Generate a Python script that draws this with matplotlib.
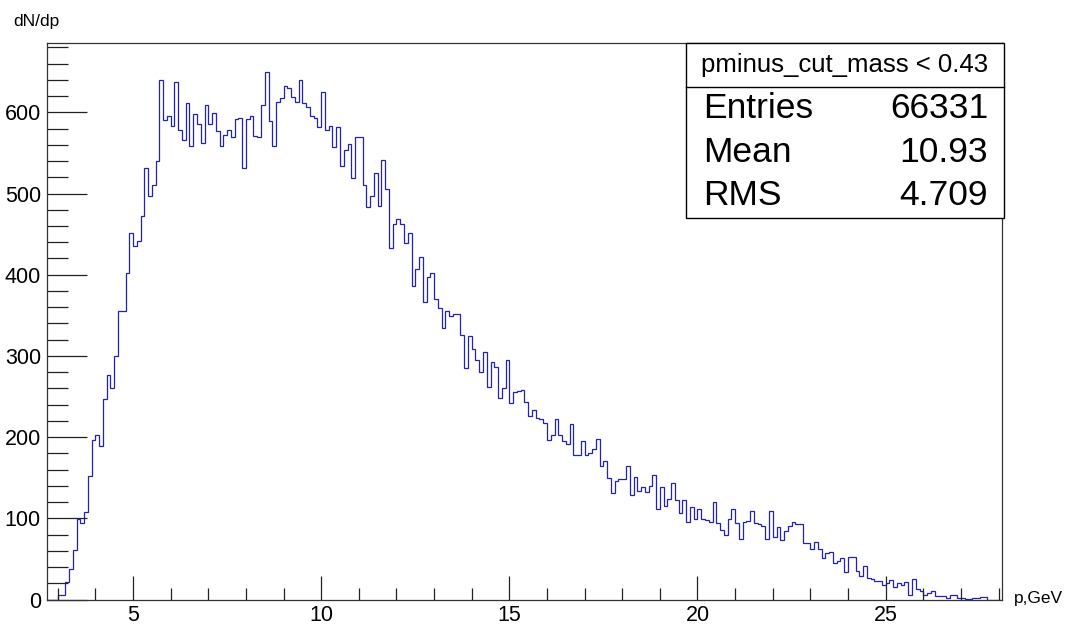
import numpy as np
import matplotlib
matplotlib.use("Agg")
import matplotlib.pyplot as plt
from matplotlib.patches import Rectangle
from matplotlib.lines import Line2D
from matplotlib.ticker import MultipleLocator

plt.rcParams['font.family'] = ['Liberation Sans', 'DejaVu Sans']

# ---- data ----
x_min = 2.7
x_max = 28.1
bin_width = 0.1

counts = [
    0, 0, 0, 5, 6, 21, 38, 61, 99, 94,            # 2.7 - 3.6
    108, 152, 197, 202, 189, 247, 276, 261, 300, 355,  # 3.7 - 4.6
    355, 402, 451, 435, 442, 472, 531, 497, 511, 540,  # 4.7 - 5.6
    640, 591, 595, 583, 637, 578, 566, 612, 558, 598,  # 5.7 - 6.6
    586, 562, 609, 586, 599, 577, 558, 572, 578, 570,  # 6.7 - 7.6
    592, 593, 532, 592, 595, 571, 570, 609, 650, 589,  # 7.7 - 8.6
    559, 613, 618, 633, 630, 619, 613, 640, 612, 606,  # 8.7 - 9.6
    595, 593, 582, 625, 578, 583, 557, 582, 534, 554,  # 9.7 - 10.6
    561, 519, 569, 569, 510, 484, 497, 525, 485, 541,  # 10.7 - 11.6
    506, 433, 463, 468, 462, 439, 451, 386, 407, 422,  # 11.7 - 12.6
    367, 397, 402, 370, 359, 334, 355, 349, 351, 352,  # 12.7 - 13.6
    326, 285, 325, 309, 295, 280, 305, 262, 292, 286,  # 13.7 - 14.6
    248, 260, 295, 242, 255, 257, 258, 243, 226, 233,  # 14.7 - 15.6
    224, 222, 217, 196, 202, 222, 203, 195, 192, 216,  # 15.7 - 16.6
    178, 178, 195, 178, 181, 185, 198, 164, 170, 150,  # 16.7 - 17.6
    131, 146, 149, 149, 165, 129, 151, 134, 138, 133,  # 17.7 - 18.6
    140, 153, 111, 138, 115, 124, 143, 123, 107, 123,  # 18.7 - 19.6
    96, 114, 99, 111, 99, 98, 95, 120, 94, 86,         # 19.7 - 20.6
    79, 99, 112, 94, 74, 96, 97, 109, 94, 93,          # 20.7 - 21.6
    90, 75, 109, 77, 89, 73, 84, 91, 96, 93,           # 21.7 - 22.6
    93, 70, 70, 62, 71, 62, 51, 57, 59, 45,            # 22.7 - 23.6
    47, 51, 34, 52, 52, 35, 29, 41, 27, 25,            # 23.7 - 24.6
    23, 23, 18, 20, 24, 15, 20, 18, 21, 6,             # 24.7 - 25.6
    25, 13, 10, 6, 8, 11, 4, 4, 4, 2,                  # 25.7 - 26.6
    5, 5, 2, 2, 1, 1, 2, 2, 3, 3,                      # 26.7 - 27.6
    0, 0, 0, 0,                                        # 27.7 - 28.0
]

x_major = [5, 10, 15, 20, 25]
y_major = [0, 100, 200, 300, 400, 500, 600]
y_max = 685

stat_title = "pminus_cut_mass < 0.43"
stat_names = ["Entries", "Mean", "RMS"]
stat_values = ["66331", "10.93", "4.709"]

x_title = "p,GeV"
y_title = "dN/dp"

# ---- figure ----
W, H = 1069, 625
fig = plt.figure(figsize=(W / 100, H / 100), dpi=100)

L, R, T, B = 46.5, 1002.3, 43.3, 599.5
ax = fig.add_axes([L / W, 1 - B / H, (R - L) / W, (B - T) / H])

n_bins = len(counts)
edges = x_min + bin_width * np.arange(n_bins + 1)
ax.stairs(counts, edges, color='#2222b0', linewidth=0.9, baseline=0)

ax.set_xlim(x_min, x_max)
ax.set_ylim(0, y_max)

ax.set_xticks(x_major)
ax.set_yticks(y_major)
ax.xaxis.set_minor_locator(MultipleLocator(1))
ax.yaxis.set_minor_locator(MultipleLocator(20))

ax.tick_params(axis='both', which='both', direction='in', color='#222222',
               top=False, right=False, labelsize=15.5, labelcolor='black', width=0.9)
ax.tick_params(axis='y', which='major', length=29, pad=4)
ax.tick_params(axis='y', which='minor', length=15)
ax.tick_params(axis='x', which='major', length=17, pad=4)
ax.tick_params(axis='x', which='minor', length=9)

for sp in ax.spines.values():
    sp.set_color('#333333')
    sp.set_linewidth(0.9)

# axis titles
fig.text(13 / W, 1 - 26 / H, y_title, fontsize=12.5, ha='left', va='baseline')
fig.text(1014 / W, 1 - 603 / H, x_title, fontsize=12.5, ha='left', va='baseline')

# ---- stats box ----
bx0, bx1 = 685.7, 1003.5
by0, by_sep, by1 = 43.3, 87.0, 217.5

def fx(px):
    return px / W

def fy(py):
    return 1 - py / H

box = Rectangle((fx(bx0), fy(by1)), fx(bx1) - fx(bx0), fy(by0) - fy(by1),
                transform=fig.transFigure, facecolor='white', edgecolor='black',
                linewidth=1.0, zorder=5)
fig.patches.append(box)
fig.lines.append(Line2D([fx(bx0), fx(bx1)], [fy(by_sep), fy(by_sep)],
                        transform=fig.transFigure, color='black', linewidth=1.0, zorder=6))

fig.text(fx((bx0 + bx1) / 2), fy((by0 + by_sep) / 2), stat_title, fontsize=18.5,
         ha='center', va='center', zorder=7)

row_h = (by1 - by_sep) / len(stat_names)
for i, (nm, val) in enumerate(zip(stat_names, stat_values)):
    yc = by_sep + row_h * (i + 0.5)
    fig.text(fx(703), fy(yc), nm, fontsize=25.5, ha='left', va='center', zorder=7)
    fig.text(fx(988), fy(yc), val, fontsize=25.5, ha='right', va='center', zorder=7)

fig.savefig("out.png", dpi=100)
